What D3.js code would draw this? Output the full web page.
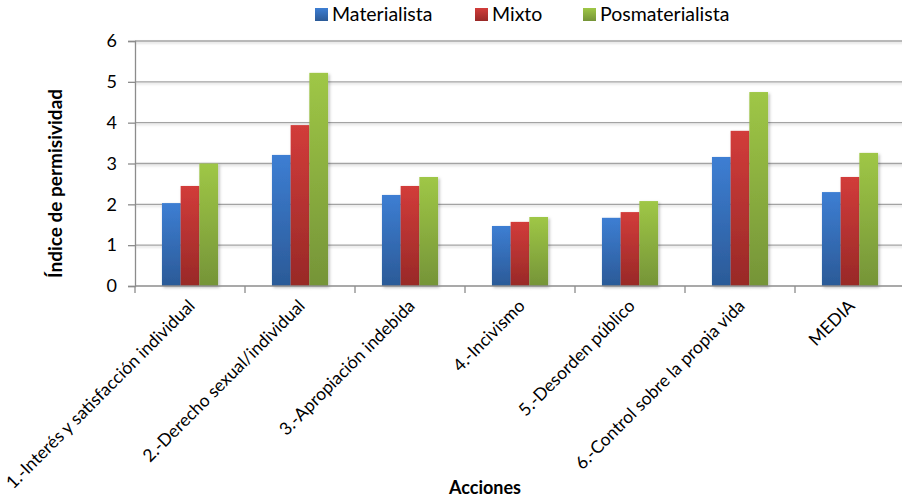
<!DOCTYPE html>
<html>
<head>
<meta charset="utf-8">
<script src="https://cdn.jsdelivr.net/npm/d3@7"></script>
<style>
  html, body { margin: 0; padding: 0; background: #fff; }
  svg { display: block; font-family: Lato, "Open Sans", sans-serif; }
</style>
</head>
<body>
<svg id="chart" width="902" height="498"></svg>
<script>
// Categories (acciones) and the permissiveness index per group
const categories = [
  "1.-Interés y satisfacción individual",
  "2.-Derecho sexual/individual",
  "3.-Apropiación indebida",
  "4.-Incivismo",
  "5.-Desorden público",
  "6.-Control sobre la propia vida",
  "MEDIA"
];
const seriesNames = ["Materialista", "Mixto", "Posmaterialista"];
const materialista    = [2.03, 3.21, 2.23, 1.47, 1.67, 3.16, 2.30];
const mixto           = [2.45, 3.94, 2.45, 1.57, 1.81, 3.80, 2.67];
const posmaterialista = [3.00, 5.22, 2.67, 1.69, 2.08, 4.75, 3.26];
const yTicks = [0, 1, 2, 3, 4, 5, 6];

const seriesValues = [materialista, mixto, posmaterialista];
const gradients = [
  { id: "gBlue",  top: "#3d7ed3", bottom: "#2b5a97" },
  { id: "gRed",   top: "#d23c3a", bottom: "#982927" },
  { id: "gGreen", top: "#9fc746", bottom: "#759438" }
];

const svg = d3.select("#chart");
const margin = { left: 135, right: 905, top: 41, bottom: 286 };

const x = d3.scaleBand().domain(categories).range([margin.left, margin.right]).paddingInner(0).paddingOuter(0);
const groupWidth = x.bandwidth() * 0.51;
const xs = d3.scaleBand().domain(seriesNames).range([0, groupWidth]).padding(0);
const y = d3.scaleLinear().domain([0, 6]).range([margin.bottom, margin.top]);

const defs = svg.append("defs");
gradients.forEach(g => {
  const lg = defs.append("linearGradient").attr("id", g.id).attr("x1", 0).attr("y1", 0).attr("x2", 0).attr("y2", 1);
  lg.append("stop").attr("offset", "0%").attr("stop-color", g.top);
  lg.append("stop").attr("offset", "100%").attr("stop-color", g.bottom);
});
const shadow = defs.append("filter").attr("id", "shadow").attr("x", "-20%").attr("y", "-20%").attr("width", "160%").attr("height", "140%");
shadow.append("feDropShadow").attr("dx", 1.5).attr("dy", 1.5).attr("stdDeviation", 1.6).attr("flood-color", "#000").attr("flood-opacity", 0.28);
const lineShadow = defs.append("filter").attr("id", "lineShadow").attr("x", "-5%").attr("y", "-200%").attr("width", "110%").attr("height", "500%");
lineShadow.append("feDropShadow").attr("dx", 0).attr("dy", 1.5).attr("stdDeviation", 0.8).attr("flood-color", "#000").attr("flood-opacity", 0.18);

// Horizontal gridlines
svg.append("g")
  .attr("filter", "url(#lineShadow)")
  .selectAll("line").data(yTicks.filter(t => t > 0)).join("line")
  .attr("x1", margin.left).attr("x2", margin.right)
  .attr("y1", d => y(d)).attr("y2", d => y(d))
  .attr("stroke", "#a3a3a3").attr("stroke-width", 1.3);

// Bars
const groups = svg.append("g").selectAll("g").data(categories).join("g")
  .attr("transform", d => `translate(${x(d) + (x.bandwidth() - groupWidth) / 2},0)`);
groups.selectAll("rect")
  .data((d, i) => seriesNames.map((s, j) => ({ s, j, v: seriesValues[j][i] })))
  .join("rect")
  .attr("x", d => xs(d.s))
  .attr("width", xs.bandwidth())
  .attr("y", d => y(d.v))
  .attr("height", d => y(0) - y(d.v))
  .attr("fill", d => `url(#${gradients[d.j].id})`)
  .attr("filter", "url(#shadow)");

// Y axis
const yAxis = svg.append("g")
  .attr("transform", `translate(${margin.left},0)`)
  .call(d3.axisLeft(y).tickValues(yTicks).tickFormat(d3.format("d")).tickSize(7).tickPadding(11));
yAxis.select(".domain").attr("stroke", "#8c8c8c").attr("stroke-width", 1.3);
yAxis.selectAll(".tick line").attr("stroke", "#8c8c8c").attr("stroke-width", 1.3);
yAxis.selectAll("text").attr("fill", "#000").style("font-size", "18px").style("font-family", "Lato, sans-serif");

// X axis baseline and ticks between categories
const xAxisG = svg.append("g");
xAxisG.append("line")
  .attr("x1", margin.left).attr("x2", margin.right)
  .attr("y1", y(0)).attr("y2", y(0))
  .attr("stroke", "#8c8c8c").attr("stroke-width", 1.3);
xAxisG.selectAll(".cat-tick").data(categories).join("line")
  .attr("class", "cat-tick")
  .attr("x1", d => x(d)).attr("x2", d => x(d))
  .attr("y1", y(0)).attr("y2", y(0) + 7)
  .attr("stroke", "#8c8c8c").attr("stroke-width", 1.3);

// Rotated category labels
xAxisG.selectAll(".cat-label").data(categories).join("text")
  .attr("class", "cat-label")
  .attr("text-anchor", "end")
  .attr("transform", d => `translate(${x(d) + x.bandwidth() / 2 + 6},${y(0) + 21}) rotate(-45)`)
  .style("font-size", "17.5px")
  .attr("fill", "#000")
  .text(d => d);

// Axis titles
svg.append("text")
  .attr("transform", `translate(62,${(margin.top + margin.bottom) / 2 + 20}) rotate(-90)`)
  .attr("text-anchor", "middle")
  .style("font-size", "19px").style("font-weight", "bold")
  .text("Índice de permisividad");
svg.append("text")
  .attr("x", 485).attr("y", 494)
  .attr("text-anchor", "middle")
  .style("font-size", "18px").style("font-weight", "bold")
  .text("Acciones");

// Legend
const legendX = [315, 475, 583];
const legend = svg.append("g").selectAll("g").data(seriesNames).join("g")
  .attr("transform", (d, i) => `translate(${legendX[i]},8)`);
legend.append("rect").attr("width", 13).attr("height", 13)
  .attr("fill", (d, i) => `url(#${gradients[i].id})`);
legend.append("text").attr("x", 17).attr("y", 13)
  .style("font-size", "19.5px").text(d => d);
</script>
</body>
</html>
